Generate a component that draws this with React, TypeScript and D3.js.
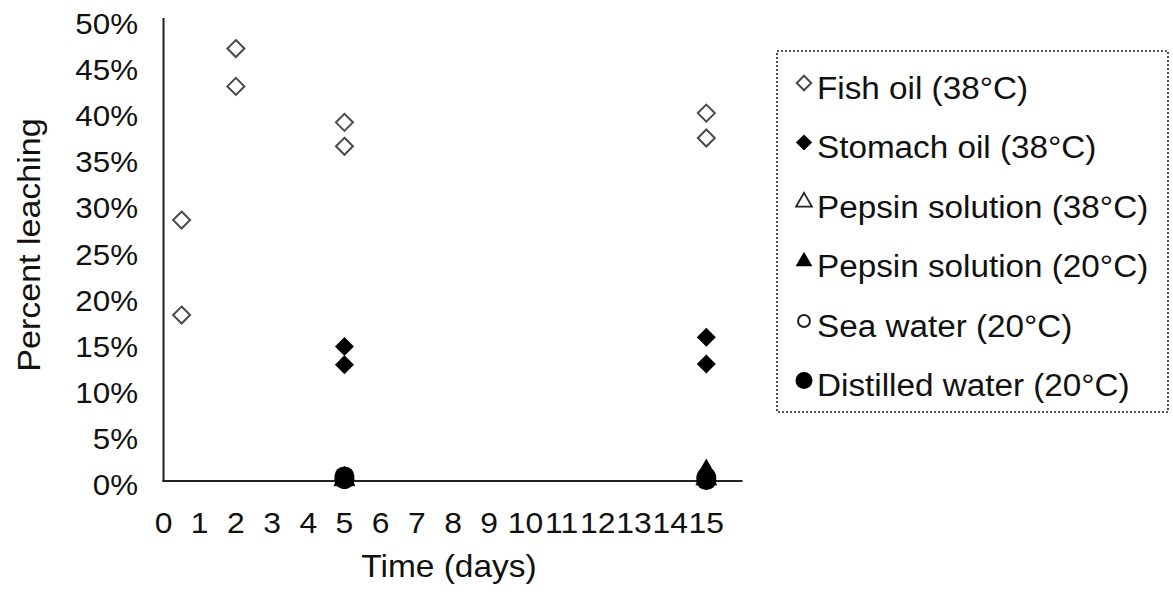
import React from "react";
import * as d3 from "d3";

type Pt = { day: number; value: number };

const fishOil: Pt[] = [
  { day: 0.5, value: 0.283 }, { day: 0.5, value: 0.18 },
  { day: 2, value: 0.469 }, { day: 2, value: 0.428 },
  { day: 5, value: 0.389 }, { day: 5, value: 0.363 },
  { day: 15, value: 0.399 }, { day: 15, value: 0.372 },
];
const stomachOil: Pt[] = [
  { day: 5, value: 0.146 }, { day: 5, value: 0.126 },
  { day: 15, value: 0.156 }, { day: 15, value: 0.127 },
];
const pepsin38: Pt[] = [
  { day: 5, value: 0.002 }, { day: 5, value: 0.001 },
  { day: 15, value: 0.003 }, { day: 15, value: 0.002 },
];
const pepsin20: Pt[] = [
  { day: 5, value: 0.004 }, { day: 5, value: 0.002 },
  { day: 15, value: 0.012 }, { day: 15, value: 0.005 },
];
const seaWater: Pt[] = [
  { day: 5, value: 0.001 }, { day: 5, value: 0.0 },
  { day: 15, value: 0.001 }, { day: 15, value: 0.0 },
];
const distilledWater: Pt[] = [
  { day: 5, value: 0.005 }, { day: 5, value: 0.002 },
  { day: 15, value: 0.004 }, { day: 15, value: 0.001 },
];

const xTicks = d3.range(0, 16);
const yTicks = d3.range(0, 0.5001, 0.05);

const seriesNames = [
  "Fish oil (38°C)",
  "Stomach oil (38°C)",
  "Pepsin solution (38°C)",
  "Pepsin solution (20°C)",
  "Sea water (20°C)",
  "Distilled water (20°C)",
];

const FONT = "'Liberation Sans', Arial, Helvetica, sans-serif";
const SX = 1.08;

type Kind = "diamondOpen" | "diamondFilled" | "triOpen" | "triFilled" | "circleOpen" | "circleFilled";
const kinds: Kind[] = ["diamondOpen", "diamondFilled", "triOpen", "triFilled", "circleOpen", "circleFilled"];
const seriesData: Pt[][] = [fishOil, stomachOil, pepsin38, pepsin20, seaWater, distilledWater];

function Marker({ kind, cx, cy, s = 1 }: { kind: Kind; cx: number; cy: number; s?: number }) {
  const sym = (type: d3.SymbolType, area: number) => d3.symbol().type(type).size(area * s * s)()!;
  switch (kind) {
    case "diamondOpen": {
      const h = 8.5 * s;
      return <path d={`M${cx},${cy - h}L${cx + h},${cy}L${cx},${cy + h}L${cx - h},${cy}Z`} fill="#fff" stroke="#4a4a4a" strokeWidth={2} />;
    }
    case "diamondFilled": {
      const h = 9.5 * s;
      return <path d={`M${cx},${cy - h}L${cx + h},${cy}L${cx},${cy + h}L${cx - h},${cy}Z`} fill="#000" />;
    }
    case "triOpen":
      return <path transform={`translate(${cx},${cy})`} d={sym(d3.symbolTriangle, 150)} fill="#fff" stroke="#222" strokeWidth={1.8} />;
    case "triFilled":
      return <path transform={`translate(${cx},${cy})`} d={sym(d3.symbolTriangle, 170)} fill="#000" />;
    case "circleOpen":
      return <circle cx={cx} cy={cy} r={7 * s} fill="#fff" stroke="#222" strokeWidth={2} />;
    case "circleFilled":
      return <circle cx={cx} cy={cy} r={10 * s} fill="#000" />;
  }
}

function T({ x, y, children, anchor = "start", rotate = 0, size = 30 }: any) {
  return (
    <text
      transform={`translate(${x},${y}) rotate(${rotate}) scale(${SX},1)`}
      textAnchor={anchor}
      dominantBaseline="central"
      fontSize={size}
      fill="#111"
    >
      {children}
    </text>
  );
}

export default function App() {
  const x = d3.scaleLinear().domain([0, 16]).range([163.5, 742.5]);
  const y = d3.scaleLinear().domain([0, 0.5]).range([481, 20]);
  const pct = d3.format(".0%");

  const legendX = 777;
  const legendY = 51;
  const legendW = 391;
  const legendH = 361;
  const rowY = (i: number) => 88 + i * 59.5;

  return (
    <svg width={1173} height={592} style={{ position: "absolute", left: 0, top: 0, display: "block" }} fontFamily={FONT}>
      <rect width={1173} height={592} fill="#fff" />
      {yTicks.map((t) => (
        <T key={t} x={138} y={y(t) + 4} anchor="end" size={29}>
          {pct(t)}
        </T>
      ))}
      {xTicks.map((t) => (
        <T key={t} x={x(t)} y={523} anchor="middle" size={29.5}>
          {t}
        </T>
      ))}
      <T x={29} y={245} anchor="middle" rotate={-90} size={31.5}>
        Percent leaching
      </T>
      <T x={449} y={566} anchor="middle" size={31}>
        Time (days)
      </T>
      <line x1={x(0)} x2={x(0)} y1={y(0.5) - 2} y2={y(0) + 1} stroke="#222" strokeWidth={2} />
      <line x1={x(0) - 1} x2={x(16)} y1={y(0)} y2={y(0)} stroke="#222" strokeWidth={2} />
      {seriesData.map((data, si) => (
        <g key={si}>
          {data.map((d, i) => (
            <Marker key={i} kind={kinds[si]} cx={x(d.day)} cy={y(d.value)} />
          ))}
        </g>
      ))}
      <rect x={legendX} y={legendY} width={legendW} height={legendH} fill="none" stroke="#222" strokeWidth={1.6} strokeDasharray="2,2" />
      {seriesNames.map((name, i) => (
        <g key={name}>
          <Marker kind={kinds[i]} cx={804} cy={rowY(i) - 5} s={0.85} />
          <T x={817} y={rowY(i)} size={30.8}>
            {name}
          </T>
        </g>
      ))}
    </svg>
  );
}
